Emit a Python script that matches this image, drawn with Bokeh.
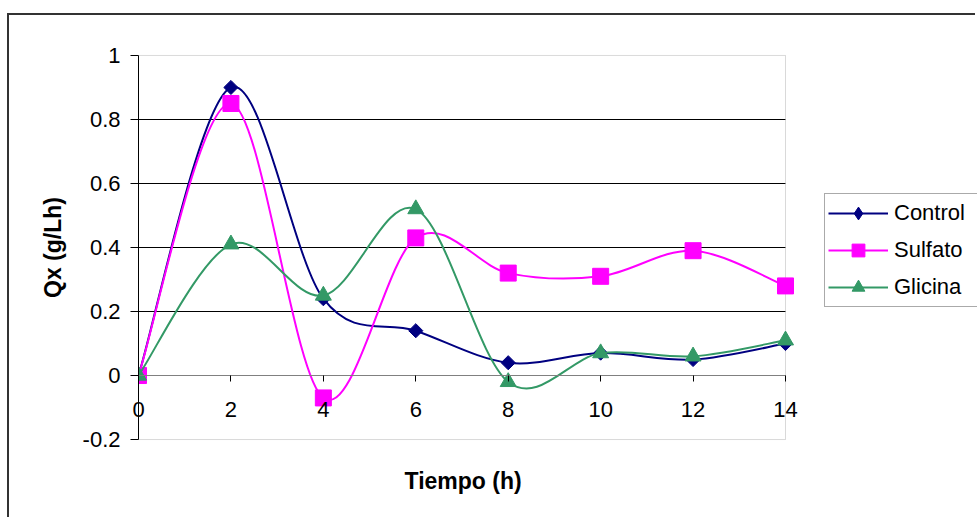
import numpy as np
from bokeh.plotting import figure
from bokeh.models import (FixedTicker, Legend, LegendItem, LinearAxis, Range1d,
                          ColumnDataSource, BoxAnnotation, Title)
from bokeh.embed import file_html
from bokeh.resources import INLINE

# ---- data ----
hours = [0, 2, 4, 6, 8, 10, 12, 14]
control = [0.0, 0.90, 0.24, 0.14, 0.04, 0.07, 0.05, 0.10]
sulfato = [0.0, 0.85, -0.07, 0.43, 0.32, 0.31, 0.39, 0.28]
glicina = [0.0, 0.41, 0.25, 0.52, -0.02, 0.07, 0.06, 0.11]
series_names = ["Control", "Sulfato", "Glicina"]
x_ticks = [0, 2, 4, 6, 8, 10, 12, 14]
x_tick_labels = ["0", "2", "4", "6", "8", "10", "12", "14"]
y_ticks = [-0.2, 0.0, 0.2, 0.4, 0.6, 0.8, 1.0]
y_tick_labels = ["-0.2", "0", "0.2", "0.4", "0.6", "0.8", "1"]
grid_ticks = [0.2, 0.4, 0.6, 0.8]
x_title = "Tiempo (h)"
y_title = "Qx (g/Lh)"
x_min, x_max = 0, 14
y_min, y_max = -0.2, 1.0

FONT = "Liberation Sans"

# ---- layout (pixels) ----
FIG_W, FIG_H = 968, 504
BORDER_L, BORDER_T, BORDER_B = 129, 39, 79
FRAME_W = FIG_W - BORDER_L
PLOT_W = 647          # width of the chart's plot area inside the frame
PAD = 0.003           # tiny y padding so the plot-area box is not clipped


def bezier_source(x, y, t=1.0 / 6.0):
    """Excel-like smoothing: cubic Bezier segments with Catmull-Rom control points."""
    x = np.asarray(x, float)
    y = np.asarray(y, float)
    xp = np.concatenate([[x[0]], x, [x[-1]]])
    yp = np.concatenate([[y[0]], y, [y[-1]]])
    d = dict(x0=[], y0=[], x1=[], y1=[], cx0=[], cy0=[], cx1=[], cy1=[])
    for i in range(len(x) - 1):
        p0x, p0y = xp[i], yp[i]
        p1x, p1y = xp[i + 1], yp[i + 1]
        p2x, p2y = xp[i + 2], yp[i + 2]
        p3x, p3y = xp[i + 3], yp[i + 3]
        d["x0"].append(p1x); d["y0"].append(p1y)
        d["x1"].append(p2x); d["y1"].append(p2y)
        d["cx0"].append(p1x + (p2x - p0x) * t); d["cy0"].append(p1y + (p2y - p0y) * t)
        d["cx1"].append(p2x - (p3x - p1x) * t); d["cy1"].append(p2y - (p3y - p1y) * t)
    return ColumnDataSource(d)


x_end = x_min + (x_max - x_min) * FRAME_W / PLOT_W
p = figure(width=FIG_W, height=FIG_H, output_backend="svg", toolbar_location=None,
           x_range=Range1d(x_min, x_end), y_range=Range1d(y_min - PAD, y_max + PAD),
           min_border_left=BORDER_L, min_border_right=0,
           min_border_top=BORDER_T, min_border_bottom=BORDER_B)
p.styles = {"margin-left": "7px", "margin-top": "13px",
            "border-left": "2px solid #333333", "border-top": "2px solid #333333"}

p.outline_line_color = None
p.xgrid.visible = False
p.ygrid.ticker = FixedTicker(ticks=grid_ticks)
p.ygrid.cross_bounds = (x_min, x_max)
p.ygrid.grid_line_color = "black"
p.ygrid.grid_line_width = 1

plot_area = BoxAnnotation(left=x_min, right=x_max, bottom=y_min, top=y_max,
                          fill_color=None, line_color="#808080", line_width=1,
                          level="underlay")
p.add_layout(plot_area)

# y axis
ya = p.yaxis[0]
ya.ticker = FixedTicker(ticks=y_ticks)
ya.bounds = (y_min, y_max)
ya.major_label_overrides = {k: v for k, v in zip(y_ticks, y_tick_labels)}
ya.minor_tick_line_color = None
ya.major_tick_in = 0
ya.major_tick_out = 8
ya.major_label_standoff = 10
ya.axis_line_color = "black"
ya.major_tick_line_color = "black"
ya.major_label_text_font = FONT
ya.major_label_text_font_size = "22px"
ya.major_label_text_color = "black"
ya.axis_label = y_title
ya.axis_label_text_font = FONT
ya.axis_label_text_font_size = "23px"
ya.axis_label_text_font_style = "bold"
ya.axis_label_text_color = "black"
ya.axis_label_standoff = 14

# bottom axis: carries the tick labels (pulled up to sit below y = 0)
xa = p.xaxis[0]
xa.ticker = FixedTicker(ticks=x_ticks)
xa.bounds = (x_min, x_max)
xa.major_label_overrides = {k: v for k, v in zip(x_ticks, x_tick_labels)}
xa.axis_line_color = None
xa.major_tick_line_color = None
xa.minor_tick_line_color = None
xa.major_tick_in = 0
xa.major_tick_out = 0
xa.major_label_standoff = -39
xa.major_label_text_font = FONT
xa.major_label_text_font_size = "22px"
xa.major_label_text_color = "black"

# axis line crossing at y = 0 (line + ticks only)
x0a = LinearAxis(fixed_location=0, ticker=FixedTicker(ticks=x_ticks), bounds=(x_min, x_max),
                 axis_line_color="#808080", major_tick_line_color="black",
                 minor_tick_line_color=None, major_tick_in=0, major_tick_out=6,
                 major_label_text_font_size="0px", major_label_text_alpha=0)
p.add_layout(x0a, "below")

# x title, centred under the plot area (not the wider frame)
x_title_model = Title(text=x_title, align="left", offset=266, standoff=50,
                      text_font=FONT, text_font_size="23px", text_font_style="bold",
                      text_color="black")
p.add_layout(x_title_model, "below")

colors = ["#000080", "#FF00FF", "#339966"]
markers = ["square", "square", "triangle"]
angles = [np.pi / 4, 0.0, 0.0]
sizes = [10, 16, 16]
legend_markers = ["diamond", "square", "triangle"]
values = [control, sulfato, glicina]

items = []
for name, vals, col, mk, ang, sz, lmk in zip(series_names, values, colors, markers,
                                              angles, sizes, legend_markers):
    src = bezier_source(hours, vals)
    r_line = p.bezier(x0="x0", y0="y0", x1="x1", y1="y1", cx0="cx0", cy0="cy0",
                      cx1="cx1", cy1="cy1", source=src, line_color=col, line_width=2)
    r_pts = p.scatter(hours, vals, marker=mk, angle=ang, size=sz,
                      fill_color=col, line_color=col)
    if lmk != mk or ang != 0.0:
        r_leg = p.scatter(hours, vals, marker=lmk, size=sz, fill_color=col,
                          line_color=col, visible=False)
    else:
        r_leg = r_pts
    items.append(LegendItem(label=name, renderers=[r_line, r_leg]))

legend = Legend(items=items, location=(686, 133), orientation="vertical",
                border_line_color="#555555", border_line_width=1,
                background_fill_color="white", background_fill_alpha=1.0,
                padding=3, spacing=5, margin=0,
                glyph_width=60, glyph_height=32, label_height=32, label_width=120,
                label_standoff=6, label_text_font=FONT, label_text_font_size="22px",
                label_text_color="black")
p.add_layout(legend, "center")

open("out.html", "w").write(file_html(p, INLINE))
